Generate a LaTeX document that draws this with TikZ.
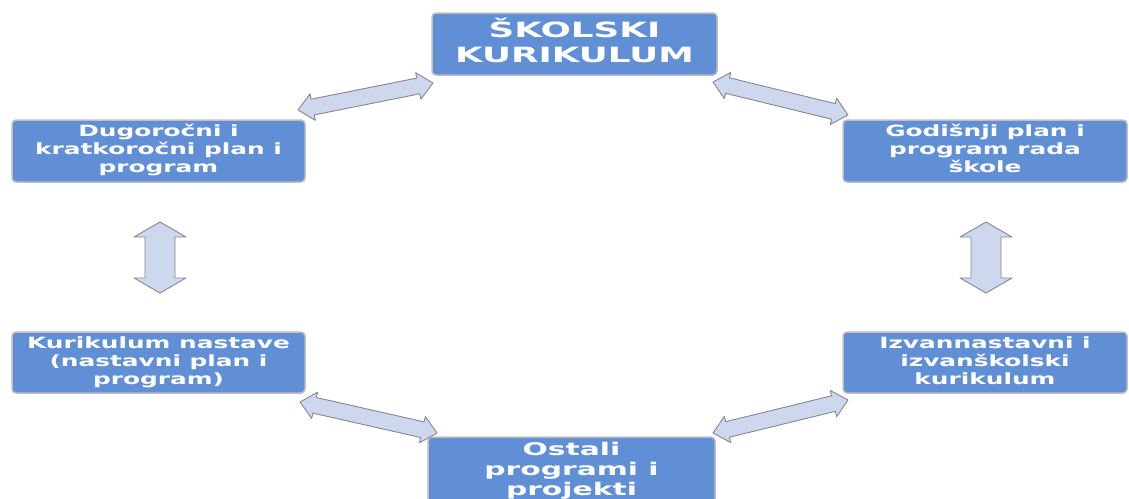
\documentclass[tikz,border=0pt]{standalone}
\usepackage{fontspec}
\setsansfont{DejaVu Sans}
\usetikzlibrary{calc}
\definecolor{boxblue}{RGB}{96,143,213}
\definecolor{boxedge}{RGB}{190,190,195}
\definecolor{arrfill}{RGB}{205,215,238}
\definecolor{arredge}{RGB}{135,135,140}
\newcommand\sidetext[1]{\raisebox{-2pt}{\scalebox{1.6}[1]{\fontsize{15.5}{18}\selectfont\begin{tabular}{@{}c@{}}#1\end{tabular}}}}
\newcommand\toptext[1]{\raisebox{-4pt}{\scalebox{1.7}[1]{\fontsize{21}{25}\selectfont\begin{tabular}{@{}c@{}}#1\end{tabular}}}}
\newcommand\bottext[1]{\raisebox{2pt}{\scalebox{1.7}[1]{\fontsize{17.5}{20}\selectfont\begin{tabular}{@{}c@{}}#1\end{tabular}}}}
% fat double arrow between two named coordinates: #1,#2 ends; #3 head length; #4 head half width; #5 shaft half width
\newcommand\fatarrow[5]{%
  \draw[fatarr] (#1)
    -- ($(#1)!#3!(#2)!#4!90:(#2)$)
    -- ($(#1)!#3!(#2)!#5!90:(#2)$)
    -- ($(#2)!#3!(#1)!#5!-90:(#1)$)
    -- ($(#2)!#3!(#1)!#4!-90:(#1)$)
    -- (#2)
    -- ($(#2)!#3!(#1)!#4!90:(#1)$)
    -- ($(#2)!#3!(#1)!#5!90:(#1)$)
    -- ($(#1)!#3!(#2)!#5!-90:(#2)$)
    -- ($(#1)!#3!(#2)!#4!-90:(#2)$)
    -- cycle;}
\tikzset{
  box/.style={draw=boxedge, line width=1.5pt, fill=boxblue, rounded corners=4pt,
    text=white, font=\sffamily\bfseries, inner sep=0pt, align=center},
  fatarr/.style={draw=arredge, line width=0.9pt, fill=arrfill, line join=round}
}
\begin{document}
\begin{tikzpicture}[x=1pt,y=-1pt]
\useasboundingbox (0,0) rectangle (1129,498);
\clip (0,0) rectangle (1129,498);
% boxes
\node[box, minimum width=285pt, minimum height=62pt] (top) at (574.5,44) {\toptext{ŠKOLSKI\\KURIKULUM}};
\node[box, minimum width=293pt, minimum height=62pt] (lt) at (158.5,151) {\sidetext{Dugoročni i\\kratkoročni plan i\\program}};
\node[box, minimum width=284pt, minimum height=62pt] (rt) at (985,151) {\sidetext{Godišnji plan i\\program rada\\škole}};
\node[box, minimum width=293pt, minimum height=61pt] (lb) at (158.5,362.5) {\sidetext{Kurikulum nastave\\(nastavni plan i\\program)}};
\node[box, minimum width=284pt, minimum height=61pt] (rb) at (985,362.5) {\sidetext{Izvannastavni i\\izvanškolski\\kurikulum}};
\node[box, minimum width=287pt, minimum height=68pt] (bot) at (571.5,471) {\bottext{Ostali\\programi i\\projekti}};
% arrow end points
\coordinate (tlA) at (298,110);
\coordinate (tlB) at (433,83);
\coordinate (trA) at (713,82);
\coordinate (trB) at (848,115);
\coordinate (blA) at (300,402);
\coordinate (blB) at (437,433);
\coordinate (brA) at (713,433);
\coordinate (brB) at (848,400);
\coordinate (vlA) at (160,222);
\coordinate (vlB) at (160,293);
\coordinate (vrA) at (986,222);
\coordinate (vrB) at (986,293);
% connectors
\fatarrow{tlA}{tlB}{15pt}{13.5pt}{8pt}
\fatarrow{trA}{trB}{15pt}{13.5pt}{8pt}
\fatarrow{blA}{blB}{15pt}{13.5pt}{8pt}
\fatarrow{brA}{brB}{15pt}{13.5pt}{8pt}
\fatarrow{vlA}{vlB}{15pt}{26pt}{15pt}
\fatarrow{vrA}{vrB}{15pt}{26pt}{15pt}
\end{tikzpicture}
\end{document}
